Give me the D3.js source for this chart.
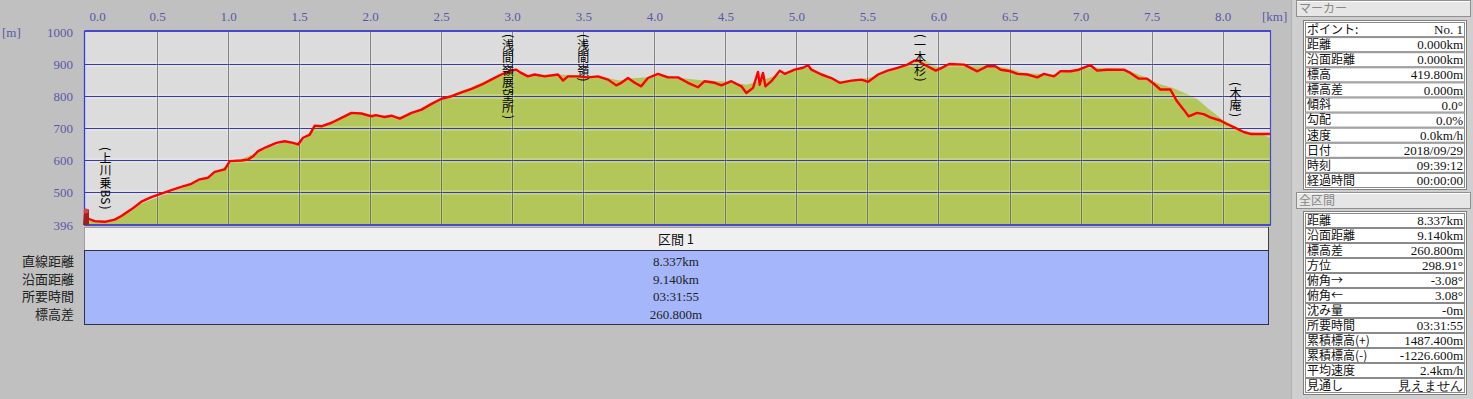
<!DOCTYPE html>
<html><head><meta charset="utf-8">
<script src="https://cdn.jsdelivr.net/npm/d3@7"></script>
<style>
html,body{margin:0;padding:0;background:#c0c0c0;overflow:hidden}
svg{display:block}
.num{font-family:"Liberation Serif","DejaVu Serif",serif}
.jp{font-family:"Noto Sans CJK JP","Noto Sans",sans-serif}
</style></head><body>
<svg id="chart" width="1473" height="399"></svg>
<script>
// ---------- data ----------
const kmTicks = [0,0.5,1.0,1.5,2.0,2.5,3.0,3.5,4.0,4.5,5.0,5.5,6.0,6.5,7.0,7.5,8.0];
const elevTicks = [1000,900,800,700,600,500,396];
const totalKm = 8.337;

const trackKm = [0.000,0.026,0.061,0.131,0.202,0.249,0.319,0.390,0.460,0.531,0.601,0.671,0.742,0.800,0.859,0.906,0.977,1.012,1.094,1.141,1.176,1.211,1.270,1.340,1.399,1.458,1.493,1.528,1.575,1.610,1.657,1.728,1.798,1.869,1.939,2.009,2.040,2.080,2.100,2.150,2.209,2.291,2.362,2.432,2.502,2.573,2.643,2.714,2.784,2.852,2.923,2.993,3.028,3.063,3.110,3.157,3.228,3.322,3.357,3.392,3.462,3.533,3.603,3.674,3.732,3.768,3.815,3.862,3.908,3.955,4.026,4.096,4.167,4.237,4.307,4.354,4.425,4.472,4.542,4.613,4.648,4.695,4.730,4.742,4.765,4.782,4.824,4.883,4.918,4.988,5.047,5.082,5.106,5.176,5.246,5.305,5.387,5.458,5.505,5.575,5.642,5.712,5.782,5.829,5.864,5.888,5.923,5.981,6.016,6.075,6.180,6.274,6.344,6.400,6.438,6.508,6.555,6.625,6.696,6.742,6.813,6.859,6.930,6.988,7.070,7.117,7.187,7.304,7.351,7.410,7.468,7.515,7.562,7.632,7.679,7.726,7.761,7.820,7.866,7.913,7.983,8.030,8.089,8.148,8.195,8.337];
const trackElev = [420,414,408,406,413,424,445,469,483,494,505,515,525,539,544,562,570,596,598,601,611,627,640,653,658,653,648,669,679,707,705,716,731,747,745,736,740,736,734,738,729,747,757,775,791,799,811,822,835,851,867,879,882,872,861,867,861,867,848,861,861,858,861,851,833,841,856,841,830,856,869,858,858,841,827,846,841,833,846,830,809,825,875,835,872,830,846,879,869,882,888,896,882,867,856,841,848,851,844,867,879,888,898,910,910,900,893,879,886,900,898,877,893,893,882,877,869,867,858,869,861,877,877,882,896,879,882,882,872,854,854,838,820,820,783,757,736,747,743,733,723,712,700,687,681,681];

const terrainKm = [0,0.1,0.2,0.3,0.4,0.5,0.6,0.7,0.8,0.9,1.0,1.05,1.1,1.2,1.3,1.4,1.5,1.55,1.6,1.7,1.8,1.87,1.95,2.1,2.2,2.3,2.45,2.55,2.7,2.8,2.9,3.0,3.1,3.3,3.5,3.65,3.75,3.85,3.95,4.05,4.2,4.35,4.5,4.65,4.8,4.9,5.0,5.08,5.2,5.3,5.45,5.55,5.7,5.8,5.9,6.0,6.1,6.2,6.35,6.5,6.6,6.8,7.0,7.1,7.3,7.45,7.55,7.65,7.75,7.82,7.9,8.0,8.15,8.25,8.3,8.337];
const terrainElev = [412,405,410,440,465,482,500,515,535,556,585,600,603,622,642,655,650,670,705,712,733,748,746,738,733,748,782,800,825,845,862,878,865,868,862,858,848,855,858,866,855,848,845,835,855,870,882,888,866,845,852,860,885,903,912,890,900,898,898,885,872,866,884,888,884,860,838,825,806,790,760,725,690,682,676,668];

const wpNames = ["(上川乗BS)","(浅間嶺展望所)","(浅間嶺)","(一本杉)","(木庵)"];
const wpKm    = [0.137,2.97,3.50,5.87,8.09];
const wpTopElev = [646,1000,1000,1000,850];

const sectionTitle = "区間 1";
const sectionLabels = ["直線距離","沿面距離","所要時間","標高差"];
const sectionValues = ["8.337km","9.140km","03:31:55","260.800m"];

const markerLabels = ["ポイント:","距離","沿面距離","標高","標高差","傾斜","勾配","速度","日付","時刻","経過時間"];
const markerValues = ["No. 1","0.000km","0.000km","419.800m","0.000m","0.0°","0.0%","0.0km/h","2018/09/29","09:39:12","00:00:00"];
const totalLabels = ["距離","沿面距離","標高差","方位","俯角→","俯角←","沈み量","所要時間","累積標高(+)","累積標高(-)","平均速度","見通し"];
const totalValues = ["8.337km","9.140km","260.800m","298.91°","-3.08°","3.08°","-0m","03:31:55","1487.400m","-1226.600m","2.4km/h","見えません"];

// ---------- drawing ----------
const svg = d3.select("#chart");
const plot = {l:84.5, r:1270.5, t:31.5, b:225.5};
const x = d3.scaleLinear().domain([0,totalKm]).range([86,1270.5]);
const y = d3.scaleLinear().domain([396,1000]).range([225,32]);
const axisCol = "#5858a8";

svg.append("rect").attr("width",1473).attr("height",399).attr("fill","#c0c0c0");

// plot background
svg.append("rect").attr("x",plot.l).attr("y",plot.t).attr("width",plot.r-plot.l).attr("height",plot.b-plot.t).attr("fill","#dcdcdc");

// terrain
const terr = terrainKm.map((k,i)=>[k,terrainElev[i]]);
svg.append("path").datum(terr)
  .attr("d", d3.area().x(d=>x(d[0])).y0(y(396)).y1(d=>y(d[1])))
  .attr("fill","#b3c65a");

// grid halos + lines
const gy = [900,800,700,600,500];
svg.append("g").selectAll("rect").data(gy).join("rect")
  .attr("x",plot.l).attr("width",plot.r-plot.l)
  .attr("y",d=>Math.round(y(d))-2).attr("height",5)
  .attr("fill","#ffffff").attr("opacity",0.22);
svg.append("g").selectAll("line").data(gy).join("line")
  .attr("x1",plot.l).attr("x2",plot.r)
  .attr("y1",d=>Math.round(y(d))+0.5).attr("y2",d=>Math.round(y(d))+0.5)
  .attr("stroke","#3a3aa0").attr("stroke-width",1);
const gx = kmTicks.filter(v=>v>0);
svg.append("g").selectAll("rect").data(gx).join("rect")
  .attr("y",plot.t).attr("height",plot.b-plot.t)
  .attr("x",d=>Math.round(x(d))-1).attr("width",3)
  .attr("fill","#ffffff").attr("opacity",0.18);
svg.append("g").selectAll("line").data(gx).join("line")
  .attr("y1",plot.t).attr("y2",plot.b)
  .attr("x1",d=>Math.round(x(d))+0.5).attr("x2",d=>Math.round(x(d))+0.5)
  .attr("stroke","#202030").attr("stroke-width",1).attr("stroke-dasharray","1,1");

// red track
const trk = trackKm.map((k,i)=>[k,trackElev[i]]);
svg.append("path").datum(trk)
  .attr("d", d3.line().x(d=>x(d[0])).y(d=>y(d[1])))
  .attr("fill","none").attr("stroke","#ff0000").attr("stroke-width",2.4).attr("stroke-linejoin","round");

// frame
svg.append("line").attr("x1",plot.l).attr("x2",plot.r+0.5).attr("y1",31).attr("y2",31).attr("stroke","#4848c8").attr("stroke-width",2);
svg.append("line").attr("x1",plot.l).attr("x2",plot.l).attr("y1",31).attr("y2",plot.b).attr("stroke","#3030ff").attr("stroke-width",1.2);
svg.append("line").attr("x1",plot.r).attr("x2",plot.r).attr("y1",31).attr("y2",plot.b).attr("stroke","#4848c8").attr("stroke-width",1.2);
svg.append("line").attr("x1",plot.l).attr("x2",plot.r).attr("y1",225).attr("y2",225).attr("stroke","#4848c8").attr("stroke-width",2);

// start marker
svg.append("path").attr("d",`M${x(0)-3},${y(396)} L${x(0)-2},${y(440)} L${x(0)+3},${y(445)} L${x(0)+3},${y(396)} Z`).attr("fill","#a02020");
svg.append("circle").attr("cx",x(0)).attr("cy",y(440)).attr("r",2.5).attr("fill","#e04040");

// waypoint labels: glyphs stacked vertically
const glyphs = [];
wpNames.forEach((name,i)=>{
  let cy = y(wpTopElev[i]) + 1;
  const cx = x(wpKm[i]);
  Array.from(name).forEach(ch=>{
    let adv, rot;
    if (ch==="("||ch===")") { adv = 6; rot = 90; }
    else if (/[A-Za-z0-9]/.test(ch)) { adv = 7.5; rot = 90; }
    else { adv = 12.5; rot = 0; }
    glyphs.push({ch, cx, cy: cy + adv/2, rot});
    cy += adv;
  });
});
svg.append("g").selectAll("text").data(glyphs).join("text")
  .attr("class","jp")
  .attr("transform",d=>`translate(${d.cx},${d.cy}) rotate(${d.rot})`)
  .attr("text-anchor","middle").attr("dy","0.36em")
  .attr("font-size",12).attr("fill","#000")
  .text(d=>d.ch);

// top axis
const xAxis = d3.axisTop(x).tickValues(kmTicks).tickSize(0).tickPadding(0).tickFormat(d3.format(".1f"));
const gxA = svg.append("g").attr("transform","translate(0,21)").call(xAxis);
gxA.select(".domain").remove();
gxA.selectAll("text").attr("class","num").attr("font-size",13).attr("fill",axisCol).attr("dy",0)
  .attr("x",d=>d===0 ? 11 : 0);
svg.append("text").attr("class","num").attr("x",1262).attr("y",21).attr("font-size",13).attr("fill",axisCol).text("[km]");

// left axis
const yAxis = d3.axisLeft(y).tickValues(elevTicks).tickSize(0).tickPadding(0).tickFormat(d3.format("d"));
const gyA = svg.append("g").attr("transform","translate(73,0)").call(yAxis);
gyA.select(".domain").remove();
gyA.selectAll("text").attr("class","num").attr("font-size",13).attr("fill",axisCol).attr("dy","0.35em");
svg.append("text").attr("class","num").attr("x",2).attr("y",37).attr("font-size",13).attr("fill",axisCol).text("[m]");

// section table
svg.append("rect").attr("x",84.5).attr("y",227.5).attr("width",1184).attr("height",23).attr("fill","#f0f0f0").attr("stroke","#a0a0a0");
svg.append("line").attr("x1",1268.5).attr("x2",1268.5).attr("y1",227).attr("y2",251).attr("stroke","#404040");
svg.append("text").attr("class","jp").attr("x",676).attr("y",244).attr("text-anchor","middle").attr("font-size",13).attr("fill","#111").text(sectionTitle);
svg.append("rect").attr("x",84.5).attr("y",250.5).attr("width",1184).attr("height",74).attr("fill","#a6b6fa").attr("stroke","#303048");
const rowY = d3.scaleBand().domain(d3.range(sectionLabels.length)).range([253,323]);
svg.append("g").selectAll("text").data(sectionLabels).join("text")
  .attr("class","jp").attr("x",74).attr("y",(d,i)=>rowY(i)+rowY.bandwidth()/2)
  .attr("dy","0.36em").attr("text-anchor","end").attr("font-size",13).attr("fill","#222").text(d=>d);
svg.append("g").selectAll("text").data(sectionValues).join("text")
  .attr("class","num").attr("x",676).attr("y",(d,i)=>rowY(i)+rowY.bandwidth()/2)
  .attr("dy","0.36em").attr("text-anchor","middle").attr("font-size",13).attr("fill","#222").text(d=>d);

// right panel
svg.append("rect").attr("x",1291).attr("y",0).attr("width",182).attr("height",399).attr("fill","#cfcfcf");
svg.append("line").attr("x1",1291.5).attr("x2",1291.5).attr("y1",0).attr("y2",399).attr("stroke","#b0b0b0");

function header(title, y0){
  svg.append("rect").attr("x",1296.5).attr("y",y0+0.5).attr("width",174).attr("height",16).attr("fill","#e6e6e6").attr("stroke","#909090");
  svg.append("line").attr("x1",1297).attr("x2",1470).attr("y1",y0+1.5).attr("y2",y0+1.5).attr("stroke","#ffffff");
  svg.append("text").attr("class","jp").attr("x",1299).attr("y",y0+9).attr("dy","0.36em").attr("font-size",12).attr("fill","#888").text(title);
}
function table(labels, values, y0, y1){
  const band = d3.scaleBand().domain(d3.range(labels.length)).range([y0,y1]);
  const g = svg.append("g");
  g.append("rect").attr("x",1303.5).attr("y",y0-1.5).attr("width",163).attr("height",y1-y0+3).attr("fill","#ffffff").attr("stroke","#808080");
  g.selectAll("rect.cell").data(labels).join("rect").attr("class","cell")
    .attr("x",1305.5).attr("y",(d,i)=>band(i)+0.5).attr("width",159).attr("height",band.bandwidth()-1)
    .attr("fill","#ffffff").attr("stroke","#8a8a8a").attr("stroke-width",1);
  g.selectAll("text.l").data(labels).join("text").attr("class","l jp")
    .attr("x",1307).attr("y",(d,i)=>band(i)+band.bandwidth()/2).attr("dy","0.36em")
    .attr("font-size",12).attr("fill","#111").text(d=>d);
  g.selectAll("text.v").data(values).join("text").attr("class","v num")
    .attr("x",1463).attr("y",(d,i)=>band(i)+band.bandwidth()/2).attr("dy","0.36em")
    .attr("text-anchor","end").attr("font-size",13).attr("fill","#111").text(d=>d);
}
header("マーカー",0);
table(markerLabels, markerValues, 22, 188);
header("全区間",192);
table(totalLabels, totalValues, 213, 393);
</script>
</body></html>
